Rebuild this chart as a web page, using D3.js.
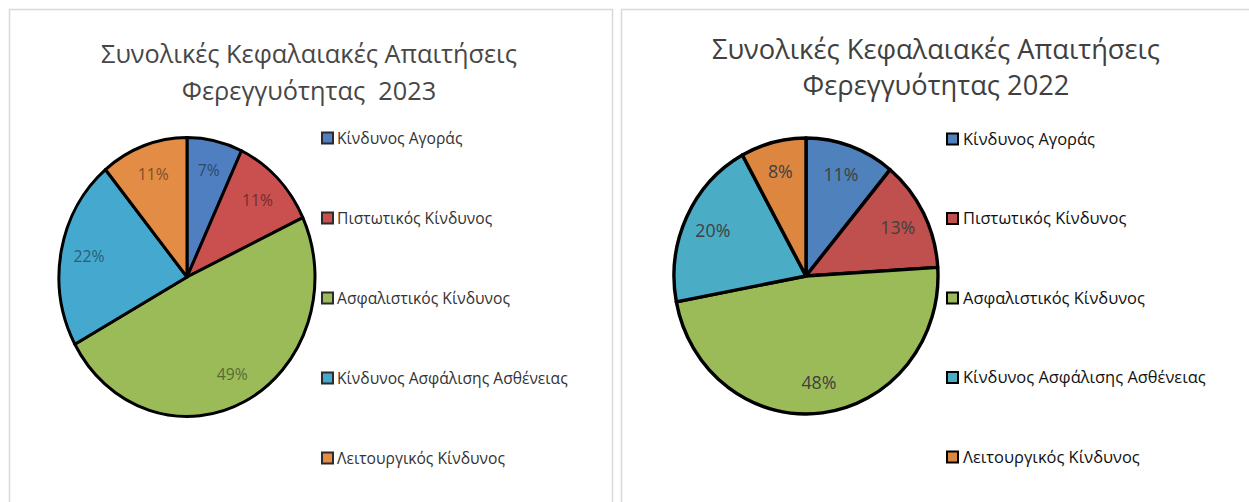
<!DOCTYPE html>
<html>
<head>
<meta charset="utf-8">
<script src="https://cdn.jsdelivr.net/npm/d3@7"></script>
<style>
  body { margin: 0; background: #fff; }
  svg text { font-family: "Open Sans", sans-serif; white-space: pre; }
</style>
</head>
<body>
<svg id="chart"></svg>
<script>
// data
const categories = ["Κίνδυνος Αγοράς", "Πιστωτικός Κίνδυνος", "Ασφαλιστικός Κίνδυνος", "Κίνδυνος Ασφάλισης Ασθένειας", "Λειτουργικός Κίνδυνος"];
const values2023 = [7, 11, 49, 22, 11];
const values2022 = [11, 13, 48, 20, 8];
const title2023 = ["Συνολικές Κεφαλαιακές Απαιτήσεις", "Φερεγγυότητας  2023"];
const title2022 = ["Συνολικές Κεφαλαιακές Απαιτήσεις", "Φερεγγυότητας 2022"];

const W = 1249, H = 502;
const svg = d3.select("#chart").attr("width", W).attr("height", H);

// hidden text used to size fonts to the widths seen in the picture
const probe = svg.append("text").attr("visibility", "hidden");
function fitSize(str, width) {
    probe.attr("font-size", 100).text(str);
    return 100 * width / probe.node().getComputedTextLength();
}

const panels = [
    {
        values: values2023, title: title2023,
        box: [9.5, 9.5, 612.5, 520],
        titleX: 309, titleY: [63, 100], titleW: 416, titleColor: "#474747",
        cx: 187, cy: 277, rx: 128, ry: 139.5, stroke: 3,
        colors: ["#4f7fc0", "#c9504f", "#9bbb59", "#45a9cf", "#e38c45"],
        labelDark: true, labelW: 31,
        legX: 322, legSize: 11, legTextX: 337, legY: [138, 458], legW: 231,
        legStroke: "#2b2b2b", legColor: "#333"
    },
    {
        values: values2022, title: title2022,
        box: [621.5, 9.5, 1260, 520],
        titleX: 936, titleY: [59, 95], titleW: 448, titleColor: "#404040",
        cx: 806, cy: 276, rx: 132, ry: 138, stroke: 3.4,
        colors: ["#4f81bd", "#c0504d", "#9bbb59", "#4bacc6", "#dd8640"],
        labelDark: false, labelW: 35,
        legX: 947, legSize: 11, legTextX: 963, legY: [139, 457], legW: 243,
        legStroke: "#000", legColor: "#111"
    }
];

const pie = d3.pie().sort(null).value(d => d);

panels.forEach(p => {
    const g = svg.append("g");

    // chart area border
    g.append("rect")
        .attr("x", p.box[0]).attr("y", p.box[1])
        .attr("width", p.box[2] - p.box[0]).attr("height", p.box[3] - p.box[1])
        .attr("fill", "#fff").attr("stroke", "#d9d9d9").attr("stroke-width", 1.5);

    // title
    const titleSize = fitSize(p.title[0], p.titleW);
    g.selectAll(".title")
        .data(p.title)
        .join("text")
        .attr("x", p.titleX)
        .attr("y", (d, i) => p.titleY[i])
        .attr("text-anchor", "middle")
        .attr("font-size", titleSize)
        .attr("fill", p.titleColor)
        .text(d => d);

    // pie, drawn as a circle and stretched vertically
    const arcs = pie(p.values);
    const arc = d3.arc().innerRadius(0).outerRadius(p.rx);
    g.append("g")
        .attr("transform", `translate(${p.cx},${p.cy}) scale(1,${p.ry / p.rx})`)
        .selectAll("path")
        .data(arcs)
        .join("path")
        .attr("d", arc)
        .attr("fill", (d, i) => p.colors[i])
        .attr("stroke", "#000")
        .attr("stroke-width", p.stroke)
        .attr("stroke-linejoin", "round")
        .attr("vector-effect", "non-scaling-stroke");

    // percent labels
    const labelSize = fitSize("48%", p.labelW);
    g.selectAll(".pct")
        .data(arcs)
        .join("text")
        .attr("x", d => p.cx + 0.78 * p.rx * Math.sin((d.startAngle + d.endAngle) / 2))
        .attr("y", d => p.cy - 0.78 * p.ry * Math.cos((d.startAngle + d.endAngle) / 2))
        .attr("dy", "0.36em")
        .attr("text-anchor", "middle")
        .attr("font-size", labelSize)
        .attr("fill", (d, i) => p.labelDark ? d3.color(p.colors[i]).darker(1.6) : "#404040")
        .text(d => d.data + "%");

    // legend
    const ly = d3.scalePoint().domain(categories).range(p.legY);
    const legSize = fitSize(categories[3], p.legW);
    const item = g.selectAll(".leg")
        .data(categories)
        .join("g")
        .attr("transform", d => `translate(0,${ly(d)})`);
    item.append("rect")
        .attr("x", p.legX).attr("y", -p.legSize / 2)
        .attr("width", p.legSize).attr("height", p.legSize)
        .attr("fill", (d, i) => p.colors[i])
        .attr("stroke", p.legStroke).attr("stroke-width", 2);
    item.append("text")
        .attr("x", p.legTextX)
        .attr("dy", "0.36em")
        .attr("font-size", legSize)
        .attr("fill", p.legColor)
        .text(d => d);
});

probe.remove();
</script>
</body>
</html>
